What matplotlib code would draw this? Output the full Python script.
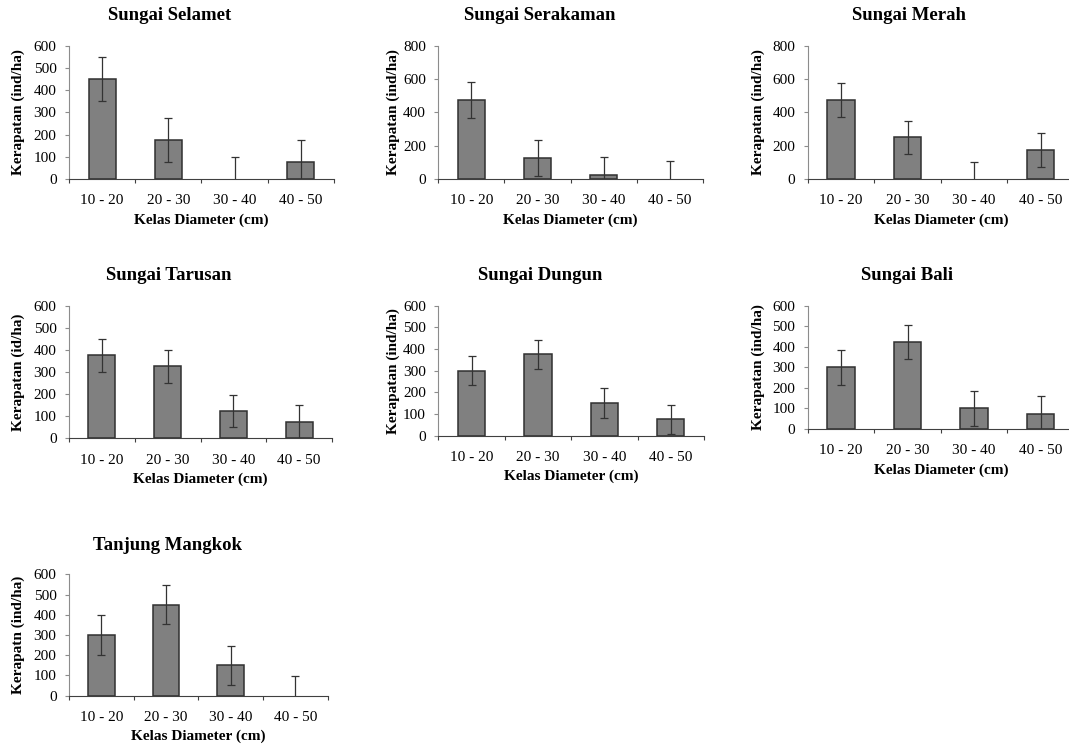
import matplotlib
matplotlib.use("Agg")
import matplotlib.pyplot as plt

plt.rcParams['font.family'] = ['Liberation Serif', 'DejaVu Serif']

W = 1069
H = 749

kelas = ['10 - 20', '20 - 30', '30 - 40', '40 - 50']

selamet = [450, 175, 0, 75]
selamet_err = [100, 100, 100, 100]
serakaman = [475, 125, 25, 0]
serakaman_err = [107, 107, 110, 107]
merah = [475, 250, 0, 175]
merah_err = [100, 100, 100, 100]
tarusan = [375, 325, 125, 75]
tarusan_err = [75, 75, 72, 75]
dungun = [300, 375, 150, 75]
dungun_err = [68, 68, 68, 68]
bali = [300, 425, 100, 75]
bali_err = [85, 83, 83, 85]
mangkok = [300, 450, 150, 0]
mangkok_err = [97, 97, 95, 97]

judul = ['Sungai Selamet', 'Sungai Serakaman', 'Sungai Merah', 'Sungai Tarusan',
         'Sungai Dungun', 'Sungai Bali', 'Tanjung Mangkok']
ylabels = ['Kerapatan (ind/ha)', 'Kerapatan (ind/ha)', 'Kerapatan (ind/ha)',
           'Kerapatan (id/ha)', 'Kerapatan (ind/ha)', 'Kerapatan (ind/ha)',
           'Kerapatn (ind/ha)']
values = [selamet, serakaman, merah, tarusan, dungun, bali, mangkok]
errors = [selamet_err, serakaman_err, merah_err, tarusan_err, dungun_err, bali_err, mangkok_err]
ymax = [600, 800, 800, 600, 600, 600, 600]
ystep = [100, 200, 200, 100, 100, 100, 100]

# axes boxes in pixels: left, top, right, bottom
boxes = [(69, 45.7, 334, 179), (438.3, 45.7, 703, 179), (807.7, 45.7, 1074, 179),
         (69, 305.7, 332, 438.3), (438.3, 305.7, 704, 435.7), (807.7, 305.7, 1074, 429),
         (69, 574.3, 327.7, 695.7)]
# title centre (x, y) and ylabel x in pixels
title_pos = [(170, 16), (540, 16), (909, 16), (169, 276), (540, 276), (907, 276), (167, 545)]
ylab_x = [18, 393, 758, 18, 393, 758, 18]


def px(x, y):
    return x / W, 1 - y / H


fig = plt.figure(figsize=(W / 100, H / 100), dpi=100)

for i in range(7):
    l, t, r, b = boxes[i]
    ax = fig.add_axes([l / W, 1 - b / H, (r - l) / W, (b - t) / H])
    x = range(len(kelas))
    # no outline for empty classes
    edges = ['#303030' if v > 0 else 'none' for v in values[i]]
    ax.bar(x, values[i], width=0.41, color='#808080', edgecolor=edges, linewidth=1.1, zorder=2)
    ax.errorbar(x, values[i], yerr=errors[i], fmt='none', ecolor='#333333',
                elinewidth=0.9, capsize=3, capthick=0.9, zorder=3)
    ax.set_xlim(-0.5, 3.5)
    ax.set_ylim(0, ymax[i])
    ax.set_yticks(range(0, ymax[i] + 1, ystep[i]))
    ax.set_xticks([-0.5, 0.5, 1.5, 2.5, 3.5])
    ax.set_xticklabels([])
    ax.set_xticks(list(x), minor=True)
    ax.set_xticklabels(kelas, minor=True)
    ax.tick_params(axis='x', which='major', length=3, width=0.8, color='#404040', direction='out')
    ax.tick_params(axis='x', which='minor', length=0, pad=11, labelsize=11)
    ax.tick_params(axis='y', length=3, width=0.8, color='#8c8c8c', direction='out', pad=6, labelsize=11)
    for s in ['top', 'right']:
        ax.spines[s].set_visible(False)
    ax.spines['left'].set_color('#8c8c8c')
    ax.spines['bottom'].set_color('#404040')
    ax.spines['bottom'].set_zorder(4)
    ax.patch.set_alpha(0)

    tx, ty = px(*title_pos[i])
    fig.text(tx, ty, judul[i], ha='center', va='center', fontsize=13.5, fontweight='bold')
    lx, ly = px(ylab_x[i], (t + b) / 2)
    fig.text(lx, ly, ylabels[i], ha='center', va='center', rotation=90, fontsize=11, fontweight='bold')
    xx, xy = px((l + r) / 2, b + 41)
    fig.text(xx, xy, 'Kelas Diameter (cm)', ha='center', va='center', fontsize=11, fontweight='bold')

fig.savefig('out.png', dpi=100)
